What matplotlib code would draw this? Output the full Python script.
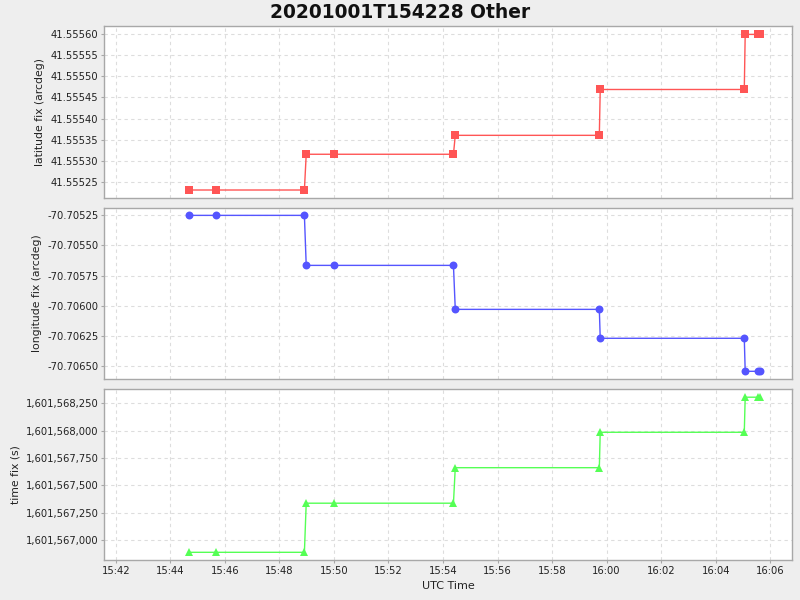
import numpy as np
import matplotlib
matplotlib.use('Agg')
import matplotlib.pyplot as plt
import matplotlib.dates as mdates
import matplotlib.ticker as mticker

TITLE = '20201001T154228 Other'

# observation times (UTC) and the GPS fix values reported at each one
utcTimes = ['2020-10-01T15:44:41', '2020-10-01T15:45:40', '2020-10-01T15:48:55',
            '2020-10-01T15:48:59', '2020-10-01T15:50:01', '2020-10-01T15:54:23',
            '2020-10-01T15:54:27', '2020-10-01T15:59:44', '2020-10-01T15:59:46',
            '2020-10-01T16:05:03', '2020-10-01T16:05:05', '2020-10-01T16:05:33',
            '2020-10-01T16:05:38']

latitudeFix = [41.555230, 41.555230, 41.555230, 41.555315, 41.555315, 41.555315,
               41.555360, 41.555360, 41.555469, 41.555469, 41.555600, 41.555600,
               41.555600]

longitudeFix = [-70.705250, -70.705250, -70.705250, -70.705665, -70.705665, -70.705665,
                -70.706030, -70.706030, -70.706270, -70.706270, -70.706544, -70.706544,
                -70.706544]

timeFix = [1601566890, 1601566890, 1601566890, 1601567338, 1601567338, 1601567338,
           1601567662, 1601567662, 1601567985, 1601567985, 1601568305, 1601568305,
           1601568305]

latTicks = [41.55525, 41.55530, 41.55535, 41.55540, 41.55545, 41.55550, 41.55555, 41.55560]
lonTicks = [-70.70525, -70.70550, -70.70575, -70.70600, -70.70625, -70.70650]
timeTicks = [1601567000, 1601567250, 1601567500, 1601567750, 1601568000, 1601568250]

BG = '#EEEEEE'
GRID = '#DDDDDD'
SPINE = '#A8A8A8'
TEXT = '#222222'

t = np.array(utcTimes, dtype='datetime64[s]')

fig = plt.figure(figsize=(8, 6), dpi=100, facecolor=BG)

panels = [
    ([0.13, 0.67, 0.86, 0.2867], latitudeFix, '#FF5555', 's', 5.3,
     'latitude fix (arcdeg)', latTicks, (41.555211, 41.55562),
     mticker.FormatStrFormatter('%.5f')),
    ([0.13, 0.3683, 0.86, 0.285], longitudeFix, '#5555FF', 'o', 5.7,
     'longitude fix (arcdeg)', lonTicks, (-70.706608, -70.705189),
     mticker.FormatStrFormatter('%.5f')),
    ([0.13, 0.0667, 0.86, 0.285], timeFix, '#55FF55', '^', 6.0,
     'time fix (s)', timeTicks, (1601566820, 1601568380),
     mticker.FuncFormatter(lambda v, p: '{:,.0f}'.format(v))),
]

xmin = np.datetime64('2020-10-01T15:41:34')
xmax = np.datetime64('2020-10-01T16:06:48')

axes = []
for rect, values, color, marker, msize, label, ticks, ylim, fmt in panels:
    ax = fig.add_axes(rect)
    ax.set_facecolor('white')
    ax.plot(t, values, color=color, lw=1.0, marker=marker, markersize=msize,
            markeredgewidth=0, zorder=3)
    ax.set_xlim(xmin, xmax)
    ax.set_ylim(*ylim)
    ax.set_yticks(ticks)
    ax.yaxis.set_major_formatter(fmt)
    ax.xaxis.set_major_locator(mdates.MinuteLocator(byminute=range(0, 60, 2)))
    ax.xaxis.set_major_formatter(mdates.DateFormatter('%H:%M'))
    ax.grid(True, color=GRID, ls=(0, (3, 3)), lw=0.8)
    ax.set_axisbelow(True)
    for s in ax.spines.values():
        s.set_color(SPINE)
        s.set_linewidth(1.0)
    ax.tick_params(axis='both', length=2, width=0.8, color=SPINE,
                   labelsize=7.2, labelcolor=TEXT, pad=2)
    ax.set_ylabel(label, fontsize=7.8, color=TEXT, labelpad=4)
    axes.append(ax)

for ax in axes[:-1]:
    ax.tick_params(axis='x', labelbottom=False, length=0)

axes[-1].set_xlabel('UTC Time', fontsize=8, color=TEXT, labelpad=4)

fig.text(0.5, 1 - 12 / 600, TITLE, ha='center', va='center',
         fontsize=13.4, fontweight='bold', color='#111111')

fig.savefig('out.png', dpi=100, facecolor=BG)
